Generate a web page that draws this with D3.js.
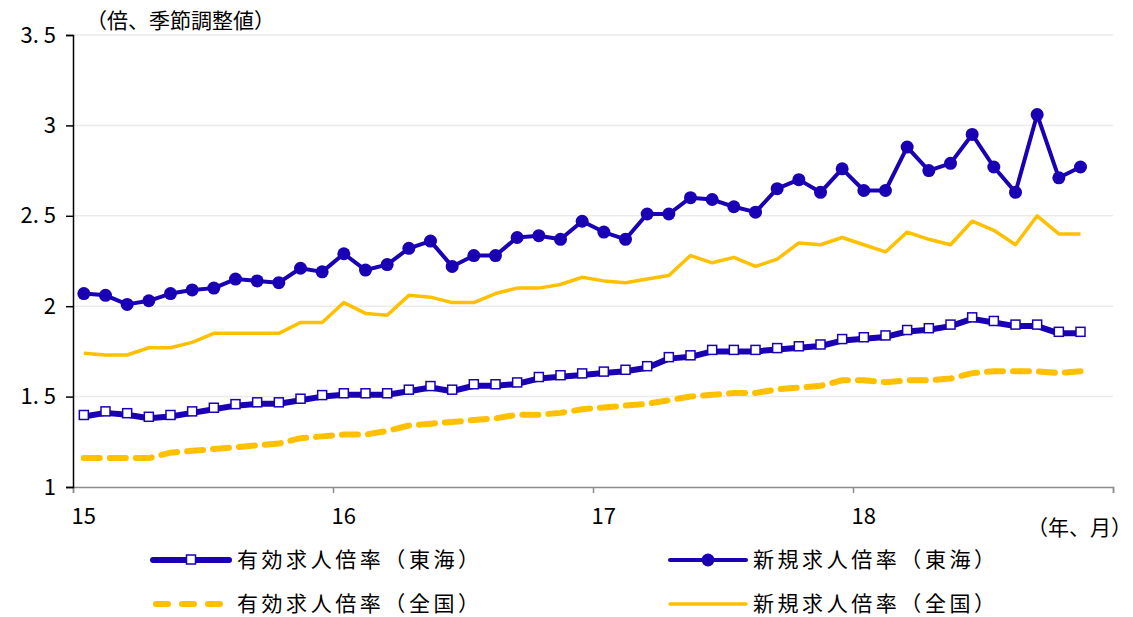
<!DOCTYPE html>
<html>
<head>
<meta charset="utf-8">
<script src="https://cdn.jsdelivr.net/npm/d3@7"></script>
<style>
  body { margin: 0; background: #fff; }
  text { font-family: "Noto Sans CJK JP", "Noto Sans", sans-serif; fill: #000; }
</style>
</head>
<body>
<div id="vis"></div>
<script>
const FRAME_WIDTH = 1133;
const FRAME_HEIGHT = 617;

// monthly, Jan 2015 - Nov 2018
const yearLabels = ["15", "16", "17", "18"];
const yTicks = [1, 1.5, 2, 2.5, 3, 3.5];
const yTickLabels = ["1", "1. 5", "2", "2. 5", "3", "3. 5"];

const seriesNames = ["有効求人倍率（東海）", "新規求人倍率（東海）", "有効求人倍率（全国）", "新規求人倍率（全国）"];

const yukoTokai = [1.39, 1.41, 1.40, 1.38, 1.39, 1.41, 1.43, 1.45, 1.46, 1.46, 1.48, 1.50,
  1.51, 1.51, 1.51, 1.53, 1.55, 1.53, 1.56, 1.56, 1.57, 1.60, 1.61, 1.62,
  1.63, 1.64, 1.66, 1.71, 1.72, 1.75, 1.75, 1.75, 1.76, 1.77, 1.78, 1.81,
  1.82, 1.83, 1.86, 1.87, 1.89, 1.93, 1.91, 1.89, 1.89, 1.85, 1.85];

const shinkiTokai = [2.07, 2.06, 2.01, 2.03, 2.07, 2.09, 2.10, 2.15, 2.14, 2.13, 2.21, 2.19,
  2.29, 2.20, 2.23, 2.32, 2.36, 2.22, 2.28, 2.28, 2.38, 2.39, 2.37, 2.47,
  2.41, 2.37, 2.51, 2.51, 2.60, 2.59, 2.55, 2.52, 2.65, 2.70, 2.63, 2.76,
  2.64, 2.64, 2.88, 2.75, 2.79, 2.95, 2.77, 2.63, 3.06, 2.71, 2.77];

const yukoZenkoku = [1.16, 1.16, 1.16, 1.16, 1.19, 1.20, 1.21, 1.22, 1.23, 1.24, 1.27, 1.28,
  1.29, 1.29, 1.31, 1.34, 1.35, 1.36, 1.37, 1.38, 1.40, 1.40, 1.41, 1.43,
  1.44, 1.45, 1.46, 1.48, 1.50, 1.51, 1.52, 1.52, 1.54, 1.55, 1.56, 1.59,
  1.59, 1.58, 1.59, 1.59, 1.60, 1.63, 1.64, 1.64, 1.64, 1.63, 1.64];

const shinkiZenkoku = [1.74, 1.73, 1.73, 1.77, 1.77, 1.80, 1.85, 1.85, 1.85, 1.85, 1.91, 1.91,
  2.02, 1.96, 1.95, 2.06, 2.05, 2.02, 2.02, 2.07, 2.10, 2.10, 2.12, 2.16,
  2.14, 2.13, 2.15, 2.17, 2.28, 2.24, 2.27, 2.22, 2.26, 2.35, 2.34, 2.38,
  2.34, 2.30, 2.41, 2.37, 2.34, 2.47, 2.42, 2.34, 2.50, 2.40, 2.40];

const BLUE = "#1a00b4";
const YELLOW = "#ffc000";

const svg = d3.select("#vis")
  .append("svg")
    .attr("width", FRAME_WIDTH)
    .attr("height", FRAME_HEIGHT);

// month index scale: 0 = start of Jan 2015, 48 = start of 2019
const x = d3.scaleLinear().domain([0, 48]).range([73, 1113]);
const y = d3.scaleLinear().domain([1, 3.5]).range([487, 35]);

// grid lines
svg.append("g")
  .selectAll("line")
  .data(yTicks.slice(1))
  .join("line")
    .attr("x1", x(0))
    .attr("x2", x(48))
    .attr("y1", d => y(d))
    .attr("y2", d => y(d))
    .attr("stroke", "#ebebeb")
    .attr("stroke-width", 1.5);

// x axis
const xAxis = svg.append("g")
  .attr("transform", "translate(0," + y(1) + ")")
  .call(d3.axisBottom(x).tickValues([0, 12, 24, 36, 48]).tickFormat("").tickSizeOuter(0).tickSize(6));
xAxis.select(".domain").attr("stroke", "#8c8c8c").attr("stroke-width", 1.5);
xAxis.selectAll(".tick line").attr("stroke", "#8c8c8c").attr("stroke-width", 1.5);

svg.append("g")
  .selectAll("text")
  .data(yearLabels)
  .join("text")
    .attr("x", (d, i) => x(i * 12 + 0.5))
    .attr("y", 524)
    .attr("text-anchor", "middle")
    .attr("font-size", 22)
    .text(d => d);

svg.append("text")
  .attr("x", 1132)
  .attr("y", 535)
  .attr("text-anchor", "end")
  .attr("font-size", 21)
  .text("（年、月）");

// y axis
const yAxis = svg.append("g")
  .attr("transform", "translate(" + x(0) + ",0)")
  .call(d3.axisLeft(y).tickValues(yTicks).tickFormat((d, i) => yTickLabels[i]).tickSizeOuter(0).tickSize(7).tickPadding(10));
yAxis.select(".domain").attr("stroke", "#000").attr("stroke-width", 1.5);
yAxis.selectAll(".tick line").attr("stroke", "#000").attr("stroke-width", 1.5);
yAxis.selectAll(".tick text")
  .attr("font-size", 22)
  .attr("font-family", "\"Noto Sans CJK JP\", sans-serif")
  .attr("fill", "#000")
  .style("white-space", "pre");

svg.append("text")
  .attr("x", 86)
  .attr("y", 28)
  .attr("font-size", 21)
  .text("（倍、季節調整値）");

const line = d3.line()
  .x((d, i) => x(i + 0.5))
  .y(d => y(d));

// 有効求人倍率（全国）
svg.append("path")
  .datum(yukoZenkoku)
  .attr("d", line)
  .attr("fill", "none")
  .attr("stroke", YELLOW)
  .attr("stroke-width", 6)
  .attr("stroke-dasharray", "16,10")
  .attr("stroke-linecap", "round");

// 新規求人倍率（全国）
svg.append("path")
  .datum(shinkiZenkoku)
  .attr("d", line)
  .attr("fill", "none")
  .attr("stroke", YELLOW)
  .attr("stroke-width", 3.5)
  .attr("stroke-linejoin", "round");

// 有効求人倍率（東海）
svg.append("path")
  .datum(yukoTokai)
  .attr("d", line)
  .attr("fill", "none")
  .attr("stroke", BLUE)
  .attr("stroke-width", 6)
  .attr("stroke-linejoin", "round");

svg.append("g")
  .selectAll("rect")
  .data(yukoTokai)
  .join("rect")
    .attr("x", (d, i) => x(i + 0.5) - 4.5)
    .attr("y", d => y(d) - 6)
    .attr("width", 9)
    .attr("height", 9)
    .attr("fill", "#fff")
    .attr("stroke", BLUE)
    .attr("stroke-width", 1.5);

// 新規求人倍率（東海）
svg.append("path")
  .datum(shinkiTokai)
  .attr("d", line)
  .attr("fill", "none")
  .attr("stroke", BLUE)
  .attr("stroke-width", 4)
  .attr("stroke-linejoin", "round");

svg.append("g")
  .selectAll("circle")
  .data(shinkiTokai)
  .join("circle")
    .attr("cx", (d, i) => x(i + 0.5))
    .attr("cy", d => y(d))
    .attr("r", 6.5)
    .attr("fill", BLUE);

// legend
const legend = svg.append("g");
const legendPos = [[153, 560], [670, 560], [153, 604], [670, 604]];

legendPos.forEach(function (p, k) {
  const g = legend.append("g").attr("transform", "translate(" + p[0] + "," + p[1] + ")");
  const ln = g.append("line").attr("x1", 0).attr("x2", 76).attr("y1", 0).attr("y2", 0)
    .attr("stroke-linecap", "round");
  if (k === 0) {
    ln.attr("stroke", BLUE).attr("stroke-width", 6);
    g.append("rect").attr("x", 33.5).attr("y", -5).attr("width", 9).attr("height", 9)
      .attr("fill", "#fff").attr("stroke", BLUE).attr("stroke-width", 1.5);
  } else if (k === 1) {
    ln.attr("stroke", BLUE).attr("stroke-width", 4);
    g.append("circle").attr("cx", 38).attr("cy", 0).attr("r", 6.5).attr("fill", BLUE);
  } else if (k === 2) {
    ln.attr("x1", 3).attr("x2", 76).attr("stroke", YELLOW).attr("stroke-width", 6)
      .attr("stroke-dasharray", "12,14");
  } else {
    ln.attr("stroke", YELLOW).attr("stroke-width", 3.5);
  }
  g.append("text")
    .attr("x", k % 2 === 0 ? 84 : 83)
    .attr("y", 7)
    .attr("font-size", 21)
    .attr("textLength", 242)
    .attr("lengthAdjust", "spacing")
    .text(seriesNames[k]);
});
</script>
</body>
</html>
